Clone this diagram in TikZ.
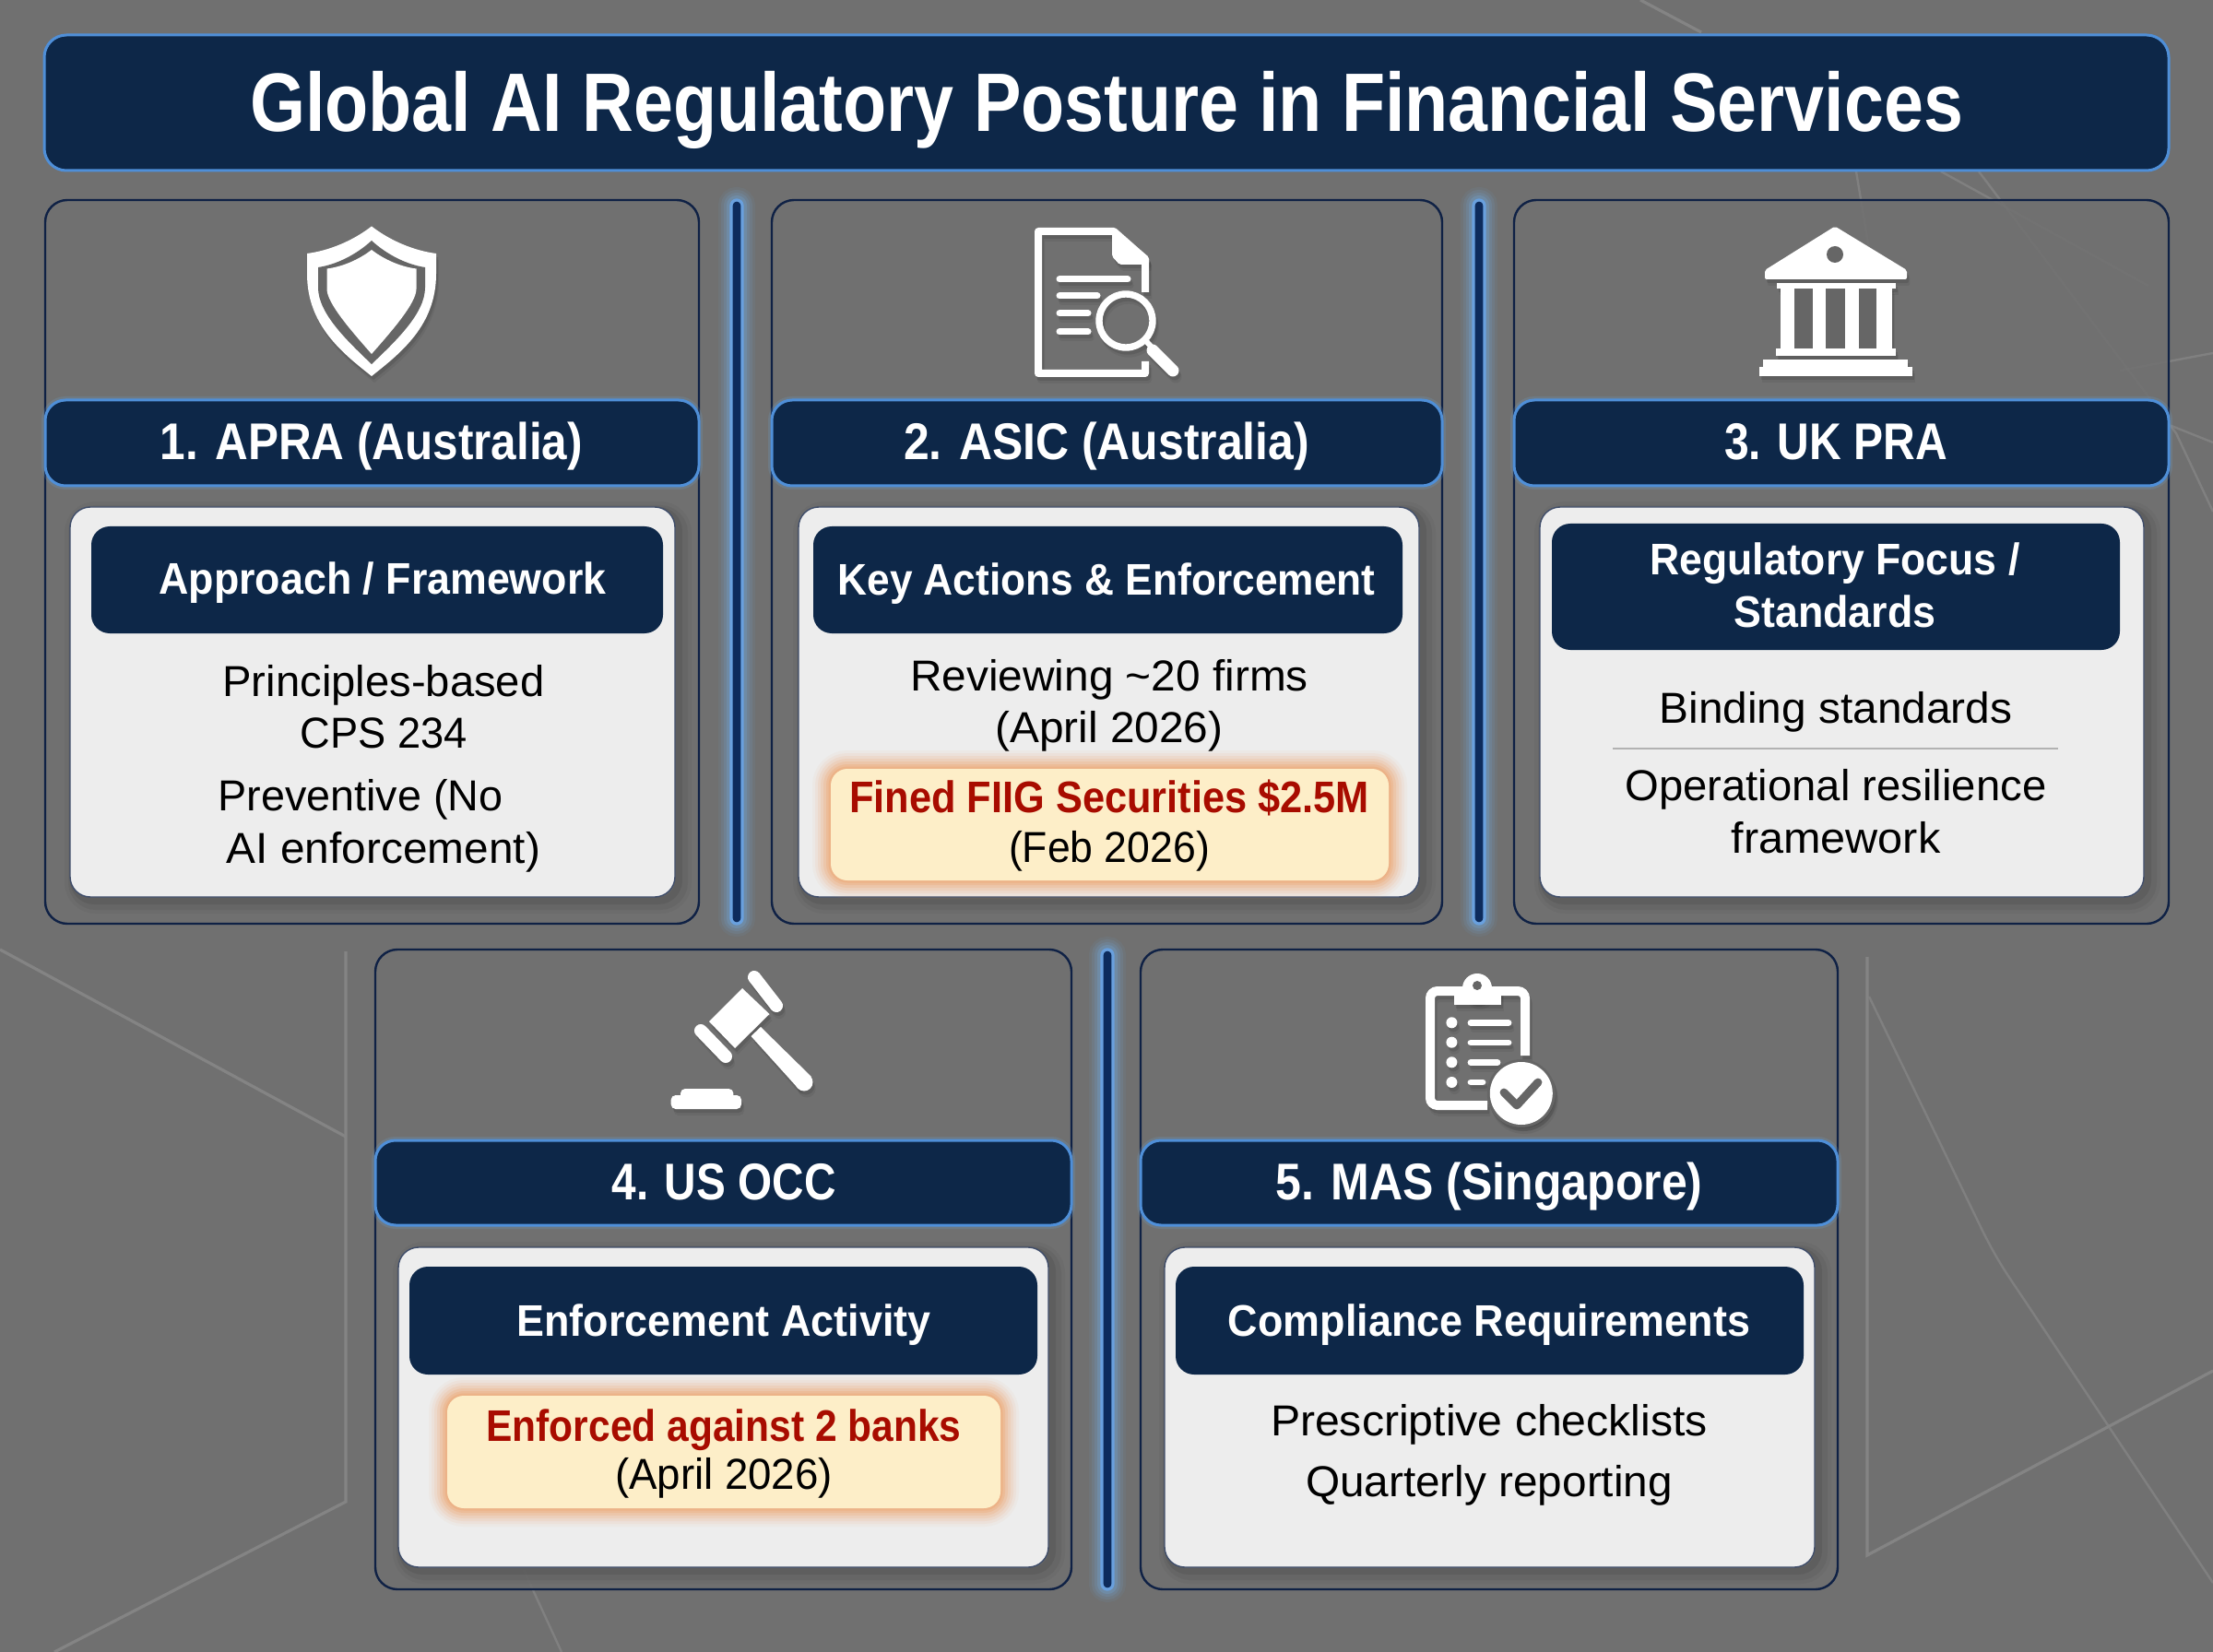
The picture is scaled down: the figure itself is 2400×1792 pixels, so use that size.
\documentclass[tikz,border=0pt]{standalone}
\usepackage{graphicx}
\usepackage{fontspec}
\setmainfont{Liberation Sans}
\definecolor{bgc}{HTML}{707070}
\definecolor{bgline}{HTML}{848484}
\definecolor{navy}{HTML}{0D2748}
\definecolor{edge}{HTML}{0F2145}
\definecolor{blueedge}{HTML}{4F8FD8}
\definecolor{glowb}{HTML}{6FA8DC}
\definecolor{divfill}{HTML}{0D2B5C}
\definecolor{card}{HTML}{EDEDED}
\definecolor{callf}{HTML}{FDEEC8}
\definecolor{callg}{HTML}{EC9A5C}
\definecolor{redt}{HTML}{A80C00}
\definecolor{gapc}{HTML}{666666}
\tikzset{
  boxbase/.style={inner sep=0pt,outer sep=0pt,rectangle},
  titlebox/.style={boxbase,fill=navy,draw=blueedge,line width=1.5pt,rounded corners=12pt},
  panelbox/.style={boxbase,draw=edge,line width=1.2pt,rounded corners=12pt,fill=bgc,fill opacity=.82,draw opacity=1},
  bandbox/.style={boxbase,fill=navy,draw=blueedge,line width=1.5pt,rounded corners=11pt,
    preaction={draw=glowb,draw opacity=.18,line width=4pt}},
  softshadow/.style={
    preaction={draw=black,draw opacity=.035,line width=12pt,transform canvas={xshift=3pt,yshift=-3pt}},
    preaction={draw=black,draw opacity=.05,line width=8pt,transform canvas={xshift=3pt,yshift=-3pt}},
    preaction={draw=black,draw opacity=.07,line width=4pt,transform canvas={xshift=2pt,yshift=-2pt}}},
  cardbox/.style={boxbase,softshadow,fill=card,draw=edge!80!white,line width=.7pt,rounded corners=11pt},
  subbox/.style={boxbase,fill=navy,rounded corners=10pt},
  dividerbox/.style={boxbase,fill=divfill,draw=blueedge!85!white,line width=1.6pt,rounded corners=3pt,
    preaction={draw=glowb,draw opacity=.08,line width=14pt},
    preaction={draw=glowb,draw opacity=.12,line width=11pt},
    preaction={draw=glowb,draw opacity=.16,line width=8pt},
    preaction={draw=glowb,draw opacity=.26,line width=5pt}},
  callbox/.style={boxbase,fill=callf,rounded corners=9pt,
    preaction={draw=callg,draw opacity=.05,line width=20pt},
    preaction={draw=callg,draw opacity=.08,line width=17pt},
    preaction={draw=callg,draw opacity=.11,line width=14pt},
    preaction={draw=callg,draw opacity=.14,line width=11pt},
    preaction={draw=callg,draw opacity=.18,line width=8pt},
    preaction={draw=callg,draw opacity=.22,line width=5pt},
    preaction={draw=callg,draw opacity=.26,line width=2.5pt}},
  txtbase/.style={inner sep=0pt,outer sep=0pt,anchor=base},
  titletxt/.style={txtbase,text=white,font=\fontsize{45}{50}\selectfont\bfseries},
  bandtxt/.style={txtbase,text=white,font=\fontsize{28}{30}\selectfont\bfseries},
  subtxt/.style={txtbase,text=white,font=\fontsize{24}{26}\selectfont\bfseries},
  bodytxt/.style={txtbase,text=black,font=\fontsize{23.5}{26}\selectfont},
  redtxt/.style={txtbase,text=redt,font=\fontsize{24}{26}\selectfont\bfseries},
  bgstroke/.style={draw=bgline,line width=1.6pt},
  bgfaint/.style={draw=bgline,line width=1.2pt,draw opacity=.8},
}
% box by corners: style, name, x1,y1,x2,y2 (pixels)
\newcommand\bx[6]{\node[#1,minimum width={0.5pt*(#5-#3)},minimum height={0.5pt*(#6-#4)}] (#2) at ({(#3+#5)/2},{(#4+#6)/2}) {};}
% text line: style, name, cx, baseline, width, text
\newcommand\tl[6]{\node[#1] (#2) at (#3,#4) {\resizebox{\dimexpr #5pt/2\relax}{\height}{#6}};}
% icons: #1 foreground, #2 gap colour
\newcommand\shieldpath[5]{(#1,#2) .. controls (#1+#3*.3,#2+#4*.55) and (#1+#3*.67,#2+#4*.9) .. (#1+#3,#2+#4) -- (#1+#3,#2+#4+22) .. controls (#1+#3,#5-55) and (#1+#3*.45,#5-25) .. (#1,#5) .. controls (#1-#3*.45,#5-25) and (#1-#3,#5-55) .. (#1-#3,#2+#4+22) -- (#1-#3,#2+#4) .. controls (#1-#3*.67,#2+#4*.9) and (#1-#3*.3,#2+#4*.55) .. cycle}
\newcommand\iconshield[2]{
  \fill[#1] \shieldpath{403}{245.5}{70}{29.5}{408};
  \fill[#2] \shieldpath{403}{261}{58}{29}{395};
  \fill[#1] \shieldpath{403}{271}{48.5}{20.5}{384};
}
\newcommand\icondoc[2]{
  \draw[#1,line width=4pt,line join=round] (1242,317) -- (1242,281) -- (1208,251) -- (1126,251) -- (1126,405) -- (1242,405) -- (1242,392);
  \fill[#1,rounded corners=1pt] (1206,247) -- (1246,279) -- (1246,287) -- (1214,287) -- (1206,278) -- cycle;
  \draw[#1,line width=3.5pt,line cap=round] (1149,303) -- (1223,303);
  \draw[#1,line width=3.5pt,line cap=round] (1149,321) -- (1190,321);
  \draw[#1,line width=3.5pt,line cap=round] (1149,340) -- (1180,340);
  \draw[#1,line width=3.5pt,line cap=round] (1149,360) -- (1180,360);
  \draw[#1,line width=3.7pt] (1221,348) circle[radius=29];
  \draw[#1,line width=3pt] (1242,369) -- (1252,380);
  \draw[#1,line width=6.5pt,line cap=round] (1250,380) -- (1272,402);
}
\newcommand\iconbank[2]{
  \fill[#1,rounded corners=1pt] (1990,245.5) -- (2068,293) -- (2068,303) -- (1914,303) -- (1914,293) -- cycle;
  \fill[#2] (1990,276) circle[radius=9];
  \fill[#1] (1926.5,307) rectangle (2055.5,313);
  \fill[#1] (1931,312) rectangle (2051.5,379);
  \fill[#2] (1946,313) rectangle (1966,378);
  \fill[#2] (1980,313) rectangle (2000.5,378);
  \fill[#2] (2016,313) rectangle (2035,378);
  \fill[#1] (1925.5,378) rectangle (2055.5,386);
  \fill[#1] (1912,390) rectangle (2069,398);
  \fill[#1] (1907.5,398) rectangle (2073.5,408);
}
\newcommand\icongavel[2]{
  \fill[#1] (805,1072) -- (834.5,1100) -- (797,1137) -- (769,1108) -- cycle;
  \draw[#1,line width=7pt,line cap=round] (818,1060) -- (842,1091);
  \draw[#1,line width=7pt,line cap=round] (760,1118) -- (787,1146);
  \fill[#1] (814.5,1124) -- (825,1114) -- (880,1168) -- (865,1180) -- cycle;
  \fill[#1] (872,1174) circle[radius=9.5];
  \fill[#1,rounded corners=2.5pt] (738,1181) rectangle (795.4,1194);
  \fill[#1,rounded corners=2.5pt] (727.7,1188) rectangle (804,1203);
}
\newcommand\iconclip[2]{
  \draw[#1,line width=5pt,rounded corners=4pt] (1654,1145) -- (1654,1075) -- (1551,1075) -- (1551,1199) -- (1613,1199);
  \fill[#1] (1577.4,1070) rectangle (1628,1090);
  \fill[#1] (1602,1072) circle[radius=16];
  \fill[#2] (1602,1069) circle[radius=5];
  \foreach \yy in {1109.3,1130.7,1152.3,1174} {\fill[#1] (1574.4,\yy) circle[radius=6];}
  \draw[#1,line width=3.4pt,line cap=round] (1595,1109.5) -- (1636,1109.5);
  \draw[#1,line width=3.4pt,line cap=round] (1595,1131) -- (1636,1131);
  \draw[#1,line width=3.4pt,line cap=round] (1595,1152.5) -- (1624,1152.5);
  \draw[#1,line width=3.4pt,line cap=round] (1595,1174) -- (1608,1174);
  \fill[#2] (1649.8,1186) circle[radius=37];
  \fill[#1] (1649.8,1186) circle[radius=34];
  \draw[#2,line width=4.4pt,line cap=round,line join=round] (1631,1185) -- (1645,1199) -- (1668,1174);
}
\newcommand\withshadow[1]{
  \begin{scope}[shift={(3,7)},opacity=.06]#1{black}{black}\end{scope}
  \begin{scope}[shift={(2,4)},opacity=.10]#1{black}{black}\end{scope}
  #1{white}{gapc}
}
\begin{document}
\begin{tikzpicture}[x=0.5pt,y=-0.5pt]
\useasboundingbox (0,0) rectangle (2400,1792);
\fill[bgc] (0,0) rectangle (2400,1792);
% background line work
\draw[bgstroke] (0,1030) -- (375,1233);
\draw[bgstroke] (375,1032) -- (375,1629) -- (59,1792);
\draw[bgstroke] (2025,1038) -- (2025,1687) -- (2400,1487);
\draw[bgfaint] (2027,1081) -- (2150,1335) .. controls (2165,1365) and (2175,1380) .. (2190,1402) -- (2400,1717);
\draw[bgstroke] (1779,0) -- (1845,35);
\draw[bgfaint] (2146,186) -- (2360,470) -- (2400,555);
\draw[bgfaint] (2013,186) -- (2027,270);
\draw[bgfaint] (2105,186) -- (2330,310);
\draw[bgfaint] (2299,402) -- (2400,383);
\draw[bgfaint] (2355,462) -- (2400,480);
\draw[bgfaint] (568,1703) -- (609,1792);
% title
\bx{titlebox}{title}{48}{38}{2352}{185}
\tl{titletxt}{titlet}{1200}{143}{1858}{Global AI Regulatory Posture in Financial Services}
% panels
\bx{panelbox}{p1}{49}{217}{758}{1002}
\bx{panelbox}{p2}{837}{217}{1564}{1002}
\bx{panelbox}{p3}{1642}{217}{2352}{1002}
\bx{panelbox}{p4}{407}{1030}{1162}{1724}
\bx{panelbox}{p5}{1237}{1030}{1993}{1724}
% dividers
\bx{dividerbox}{d1}{793}{217}{805}{1002}
\bx{dividerbox}{d2}{1598}{217}{1610}{1002}
\bx{dividerbox}{d3}{1195}{1030}{1207}{1724}
% icons
\withshadow{\iconshield}
\withshadow{\icondoc}
\withshadow{\iconbank}
\withshadow{\icongavel}
\withshadow{\iconclip}
% header bands
\bx{bandbox}{b1}{49}{434}{758}{527}
\bx{bandbox}{b2}{837}{434}{1564}{527}
\bx{bandbox}{b3}{1642}{434}{2352}{527}
\bx{bandbox}{b4}{407}{1237}{1162}{1329}
\bx{bandbox}{b5}{1237}{1237}{1993}{1329}
\tl{bandtxt}{b1t}{403}{499}{458}{1. APRA (Australia)}
\tl{bandtxt}{b2t}{1200}{499}{440}{2. ASIC (Australia)}
\tl{bandtxt}{b3t}{1991}{499}{242}{3. UK PRA}
\tl{bandtxt}{b4t}{785}{1301}{243}{4. US OCC}
\tl{bandtxt}{b5t}{1615}{1301}{463}{5. MAS (Singapore)}
% cards
\bx{cardbox}{c1}{76}{550}{732}{973}
\bx{cardbox}{c2}{866}{550}{1539}{973}
\bx{cardbox}{c3}{1670}{550}{2325}{973}
\bx{cardbox}{c4}{432}{1353}{1137}{1700}
\bx{cardbox}{c5}{1263}{1353}{1968}{1700}
% card headers
\bx{subbox}{s1}{99}{571}{719}{687}
\bx{subbox}{s2}{882}{571}{1521}{687}
\bx{subbox}{s3}{1683}{568}{2299}{705}
\bx{subbox}{s4}{444}{1374}{1125}{1491}
\bx{subbox}{s5}{1275}{1374}{1956}{1491}
\tl{subtxt}{s1t}{415}{645}{485}{Approach / Framework}
\tl{subtxt}{s2t}{1200}{646}{583}{Key Actions \& Enforcement}
\tl{subtxt}{s3t}{1990}{624}{401}{Regulatory Focus /}
\tl{subtxt}{s3u}{1990}{680}{219}{Standards}
\tl{subtxt}{s4t}{785}{1449}{449}{Enforcement Activity}
\tl{subtxt}{s5t}{1615}{1449}{566}{Compliance Requirements}
% card 1
\tl{bodytxt}{c1a}{416}{755}{349}{Principles-based}
\tl{bodytxt}{c1b}{416}{811}{181}{CPS 234}
\tl{bodytxt}{c1c}{391}{879}{309}{Preventive (No}
\tl{bodytxt}{c1d}{416}{936}{340}{AI enforcement)}
% card 2
\tl{bodytxt}{c2a}{1203}{749}{432}{Reviewing \textasciitilde 20 firms}
\tl{bodytxt}{c2b}{1203}{805}{247}{(April 2026)}
\bx{callbox}{k2}{901}{834}{1506}{955}
\tl{redtxt}{k2a}{1203}{881}{564}{Fined FIIG Securities \$2.5M}
\tl{bodytxt}{k2b}{1203}{935}{218}{(Feb 2026)}
% card 3
\tl{bodytxt}{c3a}{1991}{784}{383}{Binding standards}
\coordinate (sepl) at (1749,812);
\coordinate (sepr) at (2232,812);
\draw[draw=black!30,line width=.6pt] (sepl) -- (sepr);
\tl{bodytxt}{c3b}{1991}{868}{457}{Operational resilience}
\tl{bodytxt}{c3c}{1991}{925}{227}{framework}
% card 4
\bx{callbox}{k4}{485}{1514}{1085}{1636}
\tl{redtxt}{k4a}{785}{1563}{515}{Enforced against 2 banks}
\tl{bodytxt}{k4b}{785}{1615}{236}{(April 2026)}
% card 5
\tl{bodytxt}{c5a}{1615}{1557}{474}{Prescriptive checklists}
\tl{bodytxt}{c5b}{1615}{1623}{398}{Quarterly reporting}
\end{tikzpicture}
\end{document}
